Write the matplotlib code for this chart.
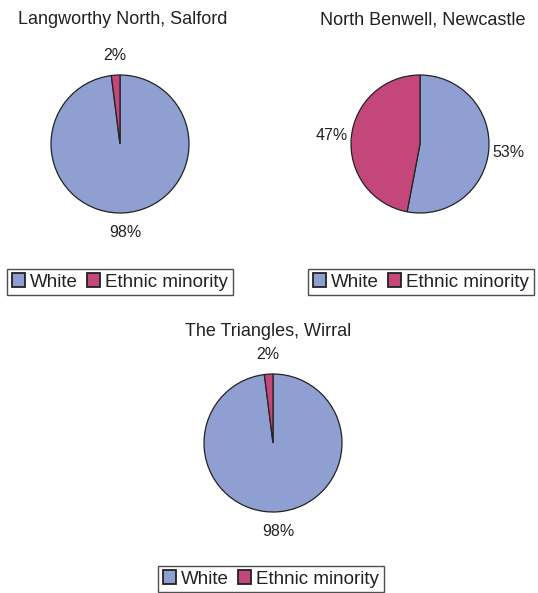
import matplotlib
matplotlib.use("Agg")
import matplotlib.pyplot as plt

plt.rcParams['font.family'] = ['Liberation Sans', 'DejaVu Sans']

# Ethnic composition of three neighbourhoods
areas = ["Langworthy North, Salford", "North Benwell, Newcastle", "The Triangles, Wirral"]
categories = ["White", "Ethnic minority"]
white_pct = [98, 53, 98]
minority_pct = [2, 47, 2]
colors = ["#8F9FD1", "#C4477B"]

W, H = 538, 593
fig = plt.figure(figsize=(W / 100, H / 100), dpi=100)

# layout in pixels: pie centre (x, y), radius, title y, legend centre (x, y)
layout = [
    dict(cx=120, cy=144, r=69, ty=20, tx=123, lx=120, ly=282),
    dict(cx=420, cy=144, r=69, ty=20, tx=423, lx=421, ly=282),
    dict(cx=273, cy=443, r=69, ty=332, tx=268, lx=271, ly=579),
]

for name, w, m, L in zip(areas, white_pct, minority_pct, layout):
    r = L["r"]
    ax = fig.add_axes([(L["cx"] - r) / W, 1 - (L["cy"] + r) / H, 2 * r / W, 2 * r / H])
    wedges, texts, autotexts = ax.pie(
        [w, m], colors=colors, startangle=90, counterclock=False,
        autopct="%.0f%%", pctdistance=1.29,
        wedgeprops=dict(edgecolor="#222222", linewidth=0.9),
        textprops=dict(fontsize=11.5, color="#222222"),
    )
    ax.set_xlim(-1, 1)
    ax.set_ylim(-1, 1)
    ax.set_aspect("equal")
    ax.axis("off")
    fig.text(L["tx"] / W, 1 - L["ty"] / H, name, ha="center", va="center",
             fontsize=13, color="#222222")
    leg = ax.legend(wedges, categories, loc="center",
                    bbox_to_anchor=(L["lx"] / W, 1 - L["ly"] / H),
                    bbox_transform=fig.transFigure, ncol=2, fontsize=13.5,
                    frameon=True, fancybox=False, edgecolor="#222222",
                    handlelength=0.7, handleheight=0.7, handletextpad=0.3,
                    columnspacing=0.45, borderpad=0.25, borderaxespad=0)
    leg.get_frame().set_linewidth(1.0)
    for p in leg.get_patches():
        p.set_linewidth(1.3)
    for t in leg.get_texts():
        t.set_color("#222222")

fig.savefig("out.png", dpi=100)
